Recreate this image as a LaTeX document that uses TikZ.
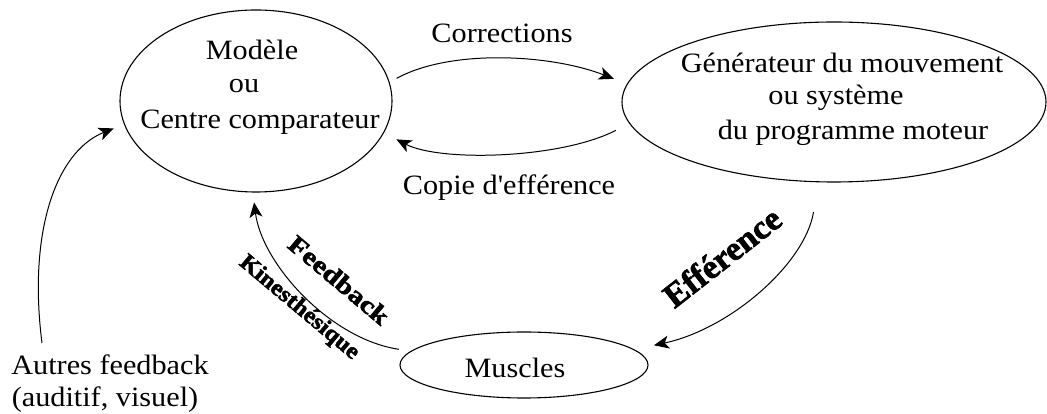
\documentclass[tikz,border=0pt]{standalone}
\usepackage{fontspec}
\usepackage{graphicx}
\setmainfont{Liberation Serif}[BoldFeatures={FakeBold=2}]
\usetikzlibrary{arrows.meta,shapes.geometric}
\begin{document}
\begin{tikzpicture}[x=1pt,y=1pt,
  box/.style={ellipse, draw, line width=1.1pt, inner sep=0pt},
  lbl/.style={font=\fontsize{28}{30}\selectfont, inner sep=0pt, anchor=center, xscale=1.08, transform shape},
  conn/.style={line width=1pt, -{Stealth[length=15pt,width=13pt,inset=4pt]}},
  wabig/.style={font=\bfseries\fontsize{34}{36}\selectfont, inner sep=0pt},
  wasmall/.style={font=\bfseries\fontsize{25}{27}\selectfont, inner sep=0pt}
]
\useasboundingbox (0,0) rectangle (1047,414);
% ellipses
\node[box, minimum width=272pt, minimum height=182pt] (m1) at (256,313) {};
\node[box, minimum width=424pt, minimum height=160pt] (gen) at (834,312) {};
\node[box, minimum width=248pt, minimum height=66pt] (mus) at (524,49) {};
% texts in ellipses
\node[lbl] (t1a) at (252,364) {Modèle};
\node[lbl] (t1b) at (244,328) {ou};
\node[lbl] (t1c) at (260,292) {Centre comparateur};
\node[lbl] (t2a) at (842,351) {Générateur du mouvement};
\node[lbl] (t2b) at (836,316) {ou système};
\node[lbl] (t2c) at (853,281) {du programme moteur};
\node[lbl] (t3) at (515,46) {Muscles};
% other labels
\node[lbl] (corr) at (502,381) {Corrections};
\node[lbl] (copie) at (509,226) {Copie d\textquotesingle efférence};
\node[lbl] (autres1) at (110,49) {Autres feedback};
\node[lbl] (autres2) at (105,14) {(auditif, visuel)};
\node[wabig, rotate=38] (eff) at (722,157) {Efférence};
\node[wasmall, rotate=-40] (fb) at (339,134) {\scalebox{1.2}[1]{Feedback}};
\node[wasmall, rotate=-40, font=\bfseries\fontsize{23}{25}\selectfont] (kin) at (299,106) {\scalebox{1.08}[1]{Kinesthésique}};
\coordinate (autresStart) at (42,71);
% connectors
\draw[conn, shorten <=8pt, shorten >=14pt] (m1.8) .. controls (450,365) and (550,360) .. (gen.175);
\draw[conn, shorten <=15pt, shorten >=14pt] (gen.186) .. controls (560,255) and (440,252) .. (m1.346);
\draw[conn, shorten <=30pt, shorten >=20pt] (gen.259) .. controls (805,150) and (730,85) .. (mus.8);
\draw[conn, shorten <=12pt, shorten >=10pt] (mus.173) .. controls (330,75) and (262,150) .. (m1.268);
\draw[conn, shorten >=11pt] (autresStart) .. controls (28,180) and (55,262) .. (m1.190);
\end{tikzpicture}
\end{document}
